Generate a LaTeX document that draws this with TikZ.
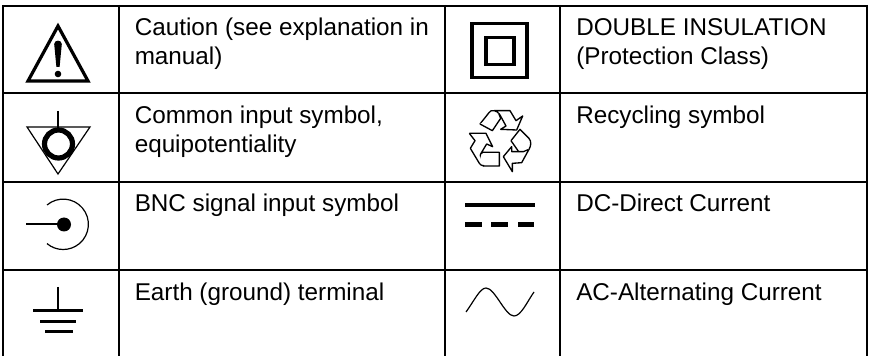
\documentclass[tikz,border=0pt]{standalone}
\usepackage{fontspec}
\setmainfont{Liberation Sans}
\tikzset{
  grid/.style={line width=1.5pt,black},
  lbl/.style={anchor=base west,inner sep=0pt,align=left,font=\fontsize{18.2}{21.6}\selectfont,text=black},
  recy/.style={line width=1pt,black,line join=round,fill=white},
}
\begin{document}
\begin{tikzpicture}[x=0.75pt,y=-0.75pt]
\useasboundingbox (0,0) rectangle (869,356);
\fill[white] (0,0) rectangle (869,356);
% table
\draw[grid] (2,6) -- (867.5,6);
\foreach \yy in {93.5,182,270.5} \draw[grid] (3,\yy) -- (867,\yy);
\foreach \xx in {3,119,445,560,867} \draw[grid] (\xx,5) -- (\xx,356);
% text
\node[lbl] (t1) at (134.5,36) {Caution (see explanation in};
\node[lbl] (t1b) at (134.5,65) {manual)};
\node[lbl] (t2) at (134.5,123.5) {Common input symbol,};
\node[lbl] (t2b) at (134.5,152.5) {equipotentiality};
\node[lbl] (t3) at (134.5,212) {BNC signal input symbol};
\node[lbl] (t4) at (134.5,301) {Earth (ground) terminal};
\node[lbl] (t5) at (576,36) {DOUBLE INSULATION};
\node[lbl] (t5b) at (576,65) {(Protection Class)};
\node[lbl] (t6) at (576,123.5) {Recycling symbol};
\node[lbl] (t7) at (576,212) {DC-Direct Current};
\node[lbl] (t8) at (576,301) {AC-Alternating Current};
% caution
\draw[line width=2.4pt,line join=miter] (58,26) -- (88,81) -- (28,81) -- cycle;
\fill (54.2,44) .. controls (54.2,39.5) and (61.8,39.5) .. (61.8,44) -- (59.6,67) -- (56.4,67) -- cycle;
\fill (58,74) circle (3.3);
% common input
\draw[line width=0.9pt] (27,127) -- (90,127) -- (58,174) -- cycle;
\draw[line width=1.3pt] (58,111) -- (58,128);
\draw[line width=3.9pt] (58.5,144) circle (14);
% BNC
\draw[line width=1pt] (26,224) -- (64,224);
\fill (64,224.5) circle (7);
\draw[line width=0.9pt] (47,205) arc[start angle=-130,end angle=130,radius=25.2];
% earth
\draw[line width=2pt] (58,287) -- (58,310);
\draw[line width=2.4pt] (33,310.5) -- (83,310.5);
\draw[line width=2.4pt] (40,321.5) -- (76,321.5);
\draw[line width=2.4pt] (45,331.5) -- (73,331.5);
% double insulation
\draw[line width=2.8pt] (472,23.5) rectangle (527,77.5);
\draw[line width=2.4pt] (486,37.5) rectangle (514,64.5);
% recycling
\begin{scope}[shift={(460,100)},x=0.25pt,y=-0.25pt]
\draw[recy] (60,72) -- (87,38) .. controls (92,32) .. (103,32) -- (150,32) -- (168,62) -- (188,48) -- (170,90) -- (122,88) -- (138,78) -- (120,45) .. controls (116,38) and (108,32) .. (103,32);
\draw[recy] (60,72) -- (97,92) -- (122,55) -- (116,40);
\draw[recy] (28,100) -- (78,100) -- (98,140) -- (80,132) -- (62,162) .. controls (56,175) and (60,197) .. (72,198) -- (118,198) -- (118,157) -- (68,157) -- (62,162);
\draw[recy] (28,100) -- (45,122) -- (31,145) -- (58,190) .. controls (62,195) .. (72,198);
\draw[recy] (157,215) -- (130,170) -- (155,140) -- (155,155) -- (190,155) -- (207,148) -- (185,188) -- (157,190) -- cycle;
\draw[recy] (153,122) -- (180,88) -- (207,115) .. controls (215,125) and (213,138) .. (207,148);
\draw[recy] (153,122) -- (176,155);
\end{scope}
% DC
\draw[line width=3.7pt] (465,205) -- (535,205);
\draw[line width=3.7pt] (465,224.5) -- (482,224.5);
\draw[line width=3.7pt] (491,224.5) -- (508,224.5);
\draw[line width=3.7pt] (518,224.5) -- (534,224.5);
% AC
\draw[line width=0.9pt] (466,312) .. controls (474,301) and (480,288) .. (486,288) .. controls (495,288) and (505,316) .. (514,316) .. controls (521,316) and (527,302) .. (534,292);
\end{tikzpicture}
\end{document}
